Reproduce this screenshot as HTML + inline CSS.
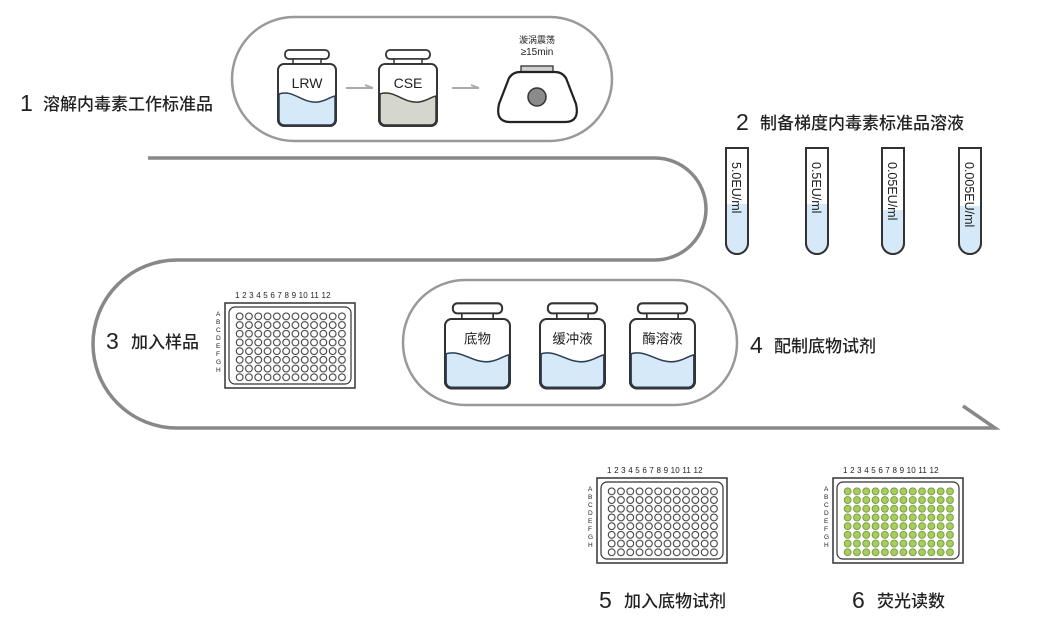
<!DOCTYPE html>
<html><head><meta charset="utf-8"><style>
html,body{margin:0;padding:0;background:#fff}
svg{display:block}
text{font-family:"Liberation Sans","Noto Sans CJK SC",sans-serif;fill:#222}
.lb{font-family:"Noto Sans CJK SC",sans-serif;font-size:17px;font-weight:500}
.nm{font-family:"Liberation Sans",sans-serif;font-size:23px}
</style></head><body>
<svg width="1039" height="628" viewBox="0 0 1039 628" xmlns="http://www.w3.org/2000/svg">
<defs>
<pattern id="w" x="10" y="9" width="9.3" height="8.7" patternUnits="userSpaceOnUse">
<circle cx="4.65" cy="4.35" r="3.4" fill="#fff" stroke="#333" stroke-width="1"/>
</pattern>
<pattern id="g" x="10" y="9" width="9.3" height="8.7" patternUnits="userSpaceOnUse">
<circle cx="4.65" cy="4.35" r="3.5" fill="#a6cf5a" stroke="#6a8a3a" stroke-width="0.8"/>
</pattern>
<g id="plate">
<rect x="0" y="0" width="130" height="85" fill="#fff" stroke="#333" stroke-width="1.5"/>
<rect x="4" y="4" width="122" height="77" rx="6" fill="none" stroke="#333" stroke-width="1.2"/>
<text x="10" y="-5" font-size="8" letter-spacing="0.2">1 2 3 4 5 6 7 8 9 10 11 12</text>
<text x="-9" y="13" font-size="6.5">A</text><text x="-9" y="21" font-size="6.5">B</text>
<text x="-9" y="29" font-size="6.5">C</text><text x="-9" y="37" font-size="6.5">D</text>
<text x="-9" y="45" font-size="6.5">E</text><text x="-9" y="53" font-size="6.5">F</text>
<text x="-9" y="61" font-size="6.5">G</text><text x="-9" y="69" font-size="6.5">H</text>
</g>
<g id="bot">
<rect x="7" y="-14" width="44" height="9" rx="4" fill="#fff" stroke="#333" stroke-width="1.8"/>
<rect x="15" y="-5" width="28" height="5" fill="#fff" stroke="#333" stroke-width="1.5"/>
<rect x="0" y="0" width="58" height="62" rx="6" fill="#fff" stroke="#333" stroke-width="1.8"/>
</g>
</defs>

<path d="M148 158 H655 A51 51 0 0 1 655 260 H177 A84 84 0 0 0 177 428 H995 L963 406" fill="none" stroke="#888" stroke-width="3.5"/>

<rect x="232" y="17" width="380" height="124" rx="62" fill="#fff" stroke="#999" stroke-width="2.5"/>
<rect x="403" y="280" width="334" height="125" rx="62" fill="#fff" stroke="#999" stroke-width="2.5"/>

<g transform="translate(278,64)">
<use href="#bot"/>
<path d="M1 30 C15 25 25 40 40 38 C48 37 52 33 57 32 V56 a5 5 0 0 1 -5 5 H6 a5 5 0 0 1 -5 -5 Z" fill="#d5e9f9" stroke="#2d3e55" stroke-width="1.5"/>
<rect x="0" y="0" width="58" height="62" rx="6" fill="none" stroke="#333" stroke-width="1.8"/>
<text x="29" y="24" font-size="14" text-anchor="middle">LRW</text>
</g>
<g transform="translate(379,64)">
<use href="#bot"/>
<path d="M1 30 C15 25 25 40 40 38 C48 37 52 33 57 32 V56 a5 5 0 0 1 -5 5 H6 a5 5 0 0 1 -5 -5 Z" fill="#d5d7cd" stroke="#333" stroke-width="1.5"/>
<rect x="0" y="0" width="58" height="62" rx="6" fill="none" stroke="#333" stroke-width="1.8"/>
<text x="29" y="24" font-size="14" text-anchor="middle">CSE</text>
</g>
<path d="M346 88 H373" stroke="#aaa" stroke-width="2"/><path d="M365 85 L373 88" stroke="#aaa" stroke-width="2"/>
<path d="M452 88 H479" stroke="#aaa" stroke-width="2"/><path d="M471 85 L479 88" stroke="#aaa" stroke-width="2"/>

<text x="537" y="43" font-size="9" text-anchor="middle" font-family="Noto Sans CJK SC,sans-serif">漩涡震荡</text>
<text x="537" y="55" font-size="10" text-anchor="middle">≥15min</text>
<rect x="521" y="66" width="32" height="6" fill="#d0d0d0" stroke="#333" stroke-width="1.3"/>
<path d="M520 72 H555 Q562 72 566 78 L576 104 Q580 122 565 122 H510 Q495 122 499 104 L509 78 Q513 72 520 72 Z" fill="#fff" stroke="#222" stroke-width="2.2"/>
<circle cx="537" cy="97" r="9" fill="#8a8a8a" stroke="#333" stroke-width="1.5"/>

<g stroke="#333" stroke-width="2">
<path d="M726 148 V243 a11 11 0 0 0 22 0 V148 Z" fill="#fff"/>
<path d="M727 204 V243 a10 10 0 0 0 20 0 V204 Z" fill="#d5e9f9" stroke="none"/>
<path d="M806 148 V243 a11 11 0 0 0 22 0 V148 Z" fill="#fff"/>
<path d="M807 204 V243 a10 10 0 0 0 20 0 V204 Z" fill="#d5e9f9" stroke="none"/>
<path d="M882 148 V243 a11 11 0 0 0 22 0 V148 Z" fill="#fff"/>
<path d="M883 210 V243 a10 10 0 0 0 20 0 V210 Z" fill="#d5e9f9" stroke="none"/>
<path d="M959 148 V243 a11 11 0 0 0 22 0 V148 Z" fill="#fff"/>
<path d="M960 206 V243 a10 10 0 0 0 20 0 V206 Z" fill="#d5e9f9" stroke="none"/>
<path d="M726 148 V243 a11 11 0 0 0 22 0 V148" fill="none"/>
<path d="M806 148 V243 a11 11 0 0 0 22 0 V148" fill="none"/>
<path d="M882 148 V243 a11 11 0 0 0 22 0 V148" fill="none"/>
<path d="M959 148 V243 a11 11 0 0 0 22 0 V148" fill="none"/>
</g>
<text font-size="12.5" transform="translate(732,162) rotate(90)">5.0EU/ml</text>
<text font-size="12.5" transform="translate(812,162) rotate(90)">0.5EU/ml</text>
<text font-size="12.5" transform="translate(888,162) rotate(90)">0.05EU/ml</text>
<text font-size="12.5" transform="translate(965,162) rotate(90)">0.005EU/ml</text>

<g transform="translate(445,319) scale(1.12)">
<use href="#bot"/>
<path d="M1 31 C15 27 25 40 40 38 C48 37 52 33 57 32 V56 a5 5 0 0 1 -5 5 H6 a5 5 0 0 1 -5 -5 Z" fill="#d5e9f9" stroke="#2d3e55" stroke-width="1.4"/>
<rect x="0" y="0" width="58" height="62" rx="6" fill="none" stroke="#333" stroke-width="1.6"/>
<text x="29" y="22" font-size="12" text-anchor="middle">底物</text>
</g>
<g transform="translate(540,319) scale(1.12)">
<use href="#bot"/>
<path d="M1 31 C15 27 25 40 40 38 C48 37 52 33 57 32 V56 a5 5 0 0 1 -5 5 H6 a5 5 0 0 1 -5 -5 Z" fill="#d5e9f9" stroke="#2d3e55" stroke-width="1.4"/>
<rect x="0" y="0" width="58" height="62" rx="6" fill="none" stroke="#333" stroke-width="1.6"/>
<text x="29" y="22" font-size="12" text-anchor="middle">缓冲液</text>
</g>
<g transform="translate(630,319) scale(1.12)">
<use href="#bot"/>
<path d="M1 31 C15 27 25 40 40 38 C48 37 52 33 57 32 V56 a5 5 0 0 1 -5 5 H6 a5 5 0 0 1 -5 -5 Z" fill="#d5e9f9" stroke="#2d3e55" stroke-width="1.4"/>
<rect x="0" y="0" width="58" height="62" rx="6" fill="none" stroke="#333" stroke-width="1.6"/>
<text x="29" y="22" font-size="12" text-anchor="middle">酶溶液</text>
</g>

<g transform="translate(225,303)"><use href="#plate"/><rect x="10" y="9" width="111.6" height="69.6" fill="url(#w)"/></g>
<g transform="translate(597,478)"><use href="#plate"/><rect x="10" y="9" width="111.6" height="69.6" fill="url(#w)"/></g>
<g transform="translate(833,478)"><use href="#plate"/><rect x="10" y="9" width="111.6" height="69.6" fill="url(#g)"/></g>

<text x="20" y="111" class="nm">1</text><text x="43" y="110" class="lb">溶解内毒素工作标准品</text>
<text x="736" y="130" class="nm">2</text><text x="760" y="129" class="lb">制备梯度内毒素标准品溶液</text>
<text x="106" y="349" class="nm">3</text><text x="131" y="348" class="lb">加入样品</text>
<text x="750" y="353" class="nm">4</text><text x="774" y="352" class="lb">配制底物试剂</text>
<text x="599" y="608" class="nm">5</text><text x="624" y="607" class="lb">加入底物试剂</text>
<text x="852" y="608" class="nm">6</text><text x="877" y="607" class="lb">荧光读数</text>
</svg>
</body></html>
